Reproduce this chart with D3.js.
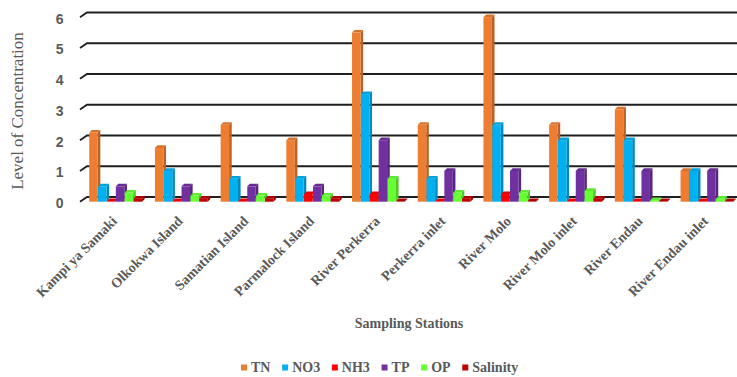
<!DOCTYPE html>
<html>
<head>
<meta charset="utf-8">
<script src="https://cdn.jsdelivr.net/npm/d3@7"></script>
<style>
  html, body { margin: 0; padding: 0; background: #fff; }
  svg { display: block; }
</style>
</head>
<body>
<svg id="chart" width="737" height="377"></svg>
<script>
// Sampling stations and measured concentrations
const stations = ["Kampi ya Samaki", "Olkokwa Island", "Samatian Island", "Parmalock Island",
  "River Perkerra", "Perkerra inlet", "River Molo", "River Molo inlet", "River Endau", "River Endau inlet"];
const seriesNames = ["TN", "NO3", "NH3", "TP", "OP", "Salinity"];
const TN       = [2.25, 1.75, 2.5, 2.0, 5.5, 2.5, 6.0, 2.5, 3.0, 1.0];
const NO3      = [0.5, 1.0, 0.75, 0.75, 3.5, 0.75, 2.5, 2.0, 2.0, 1.0];
const NH3      = [0.02, 0.02, 0.02, 0.25, 0.25, 0.02, 0.25, 0.02, 0.02, 0.02];
const TP       = [0.5, 0.5, 0.5, 0.5, 2.0, 1.0, 1.0, 1.0, 1.0, 1.0];
const OP       = [0.3, 0.2, 0.2, 0.2, 0.75, 0.3, 0.3, 0.35, 0.05, 0.1];
const Salinity = [0.1, 0.1, 0.1, 0.1, 0.02, 0.1, 0.02, 0.1, 0.02, 0.02];
const yTicks   = [0, 1, 2, 3, 4, 5, 6];

const seriesValues = [TN, NO3, NH3, TP, OP, Salinity];
const colors = ["#ED7D31", "#00B0F0", "#FF0000", "#7030A0", "#66FF33", "#C00000"];

const svg = d3.select("#chart");
const gray = "#595959";
const serif = "'Liberation Serif', 'Times New Roman', serif";

// Scales: value -> front-face y; stations -> group band; series -> bar slot
const y = d3.scaleLinear().domain([0, 6]).range([201.7, 17.2]);
const x0 = d3.scaleBand().domain(stations).range([83, 740]).paddingInner(0.19).paddingOuter(0.095);
const x1 = d3.scaleBand().domain(seriesNames).range([0, x0.bandwidth()]);
const color = d3.scaleOrdinal().domain(seriesNames).range(colors);

// Back wall: depth offset of the wall relative to the front plane
const wallDx = 7, wallDy = -4.7;
const grid = svg.append("g");
yTicks.forEach(v => {
  const yf = y(v);
  grid.append("path")
    .attr("d", `M80,${yf} L${80 + wallDx},${yf + wallDy} L737,${yf + wallDy}`)
    .attr("fill", "none")
    .attr("stroke", "#1f1f1f")
    .attr("stroke-width", 1.8);
});

// Y axis tick labels
const yAxis = svg.append("g")
  .attr("transform", "translate(63.5,1.5)")
  .call(d3.axisLeft(y).tickValues(yTicks).tickSize(0).tickPadding(0).tickFormat(d3.format("d")));
yAxis.select(".domain").remove();
yAxis.selectAll("text")
  .attr("fill", gray)
  .style("font-family", "'Liberation Sans', Arial, sans-serif")
  .style("font-weight", "bold")
  .style("font-size", "14px");

// 3D bars: front face, right side face, top face
const bdx = 2.6, bdy = -2.6;
const bars = svg.append("g");
stations.forEach((st, i) => {
  const g = bars.append("g").attr("transform", `translate(${x0(st)},0)`);
  seriesNames.forEach((s, j) => {
    const v = seriesValues[j][i];
    const c = d3.color(color(s));
    const bx = x1(s), bw = x1.bandwidth() - bdx * 0.15;
    const yt = y(v), yb = y(0);
    // right side
    g.append("path")
      .attr("d", `M${bx + bw},${yb} L${bx + bw + bdx},${yb + bdy} L${bx + bw + bdx},${yt + bdy} L${bx + bw},${yt} Z`)
      .attr("fill", c.darker(0.7));
    // top
    g.append("path")
      .attr("d", `M${bx},${yt} L${bx + bdx},${yt + bdy} L${bx + bw + bdx},${yt + bdy} L${bx + bw},${yt} Z`)
      .attr("fill", c.darker(0.25));
    // front
    g.append("rect")
      .attr("x", bx).attr("y", yt)
      .attr("width", bw).attr("height", yb - yt)
      .attr("fill", c);
  });
});

// Station labels, rotated
const xl = svg.append("g");
stations.forEach(st => {
  const cx = x0(st) + x0.bandwidth() / 2 + 2;
  xl.append("text")
    .attr("transform", `translate(${cx},222) rotate(-45)`)
    .attr("text-anchor", "end")
    .attr("fill", gray)
    .style("font-family", serif)
    .style("font-weight", "bold")
    .style("font-size", "14px")
    .text(st);
});

// Axis titles
svg.append("text")
  .attr("transform", "translate(23,111) rotate(-90)")
  .attr("text-anchor", "middle")
  .attr("fill", gray)
  .style("font-family", serif)
  .style("font-size", "17px")
  .text("Level of Concentration");

svg.append("text")
  .attr("x", 409).attr("y", 328)
  .attr("text-anchor", "middle")
  .attr("fill", gray)
  .style("font-family", serif)
  .style("font-weight", "bold")
  .style("font-size", "14px")
  .text("Sampling Stations");

// Legend
const legend = svg.append("g").attr("transform", "translate(241,0)");
let lx = 0;
seriesNames.forEach(s => {
  const item = legend.append("g").attr("transform", `translate(${lx},0)`);
  item.append("rect").attr("x", 0).attr("y", 364.5).attr("width", 6).attr("height", 6).attr("fill", color(s));
  const t = item.append("text")
    .attr("x", 10).attr("y", 372)
    .attr("fill", gray)
    .style("font-family", serif)
    .style("font-weight", "bold")
    .style("font-size", "14px")
    .text(s);
  lx += 10 + t.node().getComputedTextLength() + 11.7;
});
</script>
</body>
</html>
